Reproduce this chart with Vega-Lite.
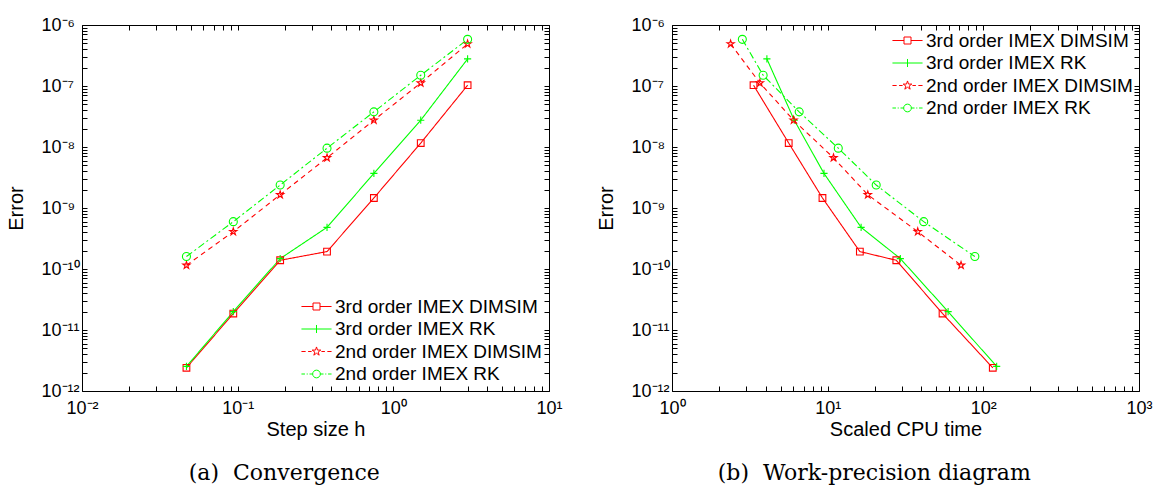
{
  "$schema": "https://vega.github.io/schema/vega-lite/v6.json",
  "background": "white",
  "padding": {"left": 6, "top": 15, "right": 5, "bottom": 5},
  "datasets": {
    "runs": [
      {"series": "3rd order IMEX DIMSIM", "h": 0.046875, "cpu": 115.0, "err": 2.4e-12},
      {"series": "3rd order IMEX DIMSIM", "h": 0.09375, "cpu": 54.7, "err": 1.86e-11},
      {"series": "3rd order IMEX DIMSIM", "h": 0.1875, "cpu": 27.6, "err": 1.39e-10},
      {"series": "3rd order IMEX DIMSIM", "h": 0.375, "cpu": 16.1, "err": 1.93e-10},
      {"series": "3rd order IMEX DIMSIM", "h": 0.75, "cpu": 9.26, "err": 1.46e-9},
      {"series": "3rd order IMEX DIMSIM", "h": 1.5, "cpu": 5.62, "err": 1.16e-8},
      {"series": "3rd order IMEX DIMSIM", "h": 3, "cpu": 3.34, "err": 1.03e-7},
      {"series": "3rd order IMEX RK", "h": 0.046875, "cpu": 121.8, "err": 2.53e-12},
      {"series": "3rd order IMEX RK", "h": 0.09375, "cpu": 59.4, "err": 2.0e-11},
      {"series": "3rd order IMEX RK", "h": 0.1875, "cpu": 29.3, "err": 1.48e-10},
      {"series": "3rd order IMEX RK", "h": 0.375, "cpu": 16.4, "err": 4.82e-10},
      {"series": "3rd order IMEX RK", "h": 0.75, "cpu": 9.47, "err": 3.69e-9},
      {"series": "3rd order IMEX RK", "h": 1.5, "cpu": 6.1, "err": 2.75e-8},
      {"series": "3rd order IMEX RK", "h": 3, "cpu": 4.07, "err": 2.78e-7},
      {"series": "2nd order IMEX DIMSIM", "h": 0.046875, "cpu": 71.9, "err": 1.15e-10},
      {"series": "2nd order IMEX DIMSIM", "h": 0.09375, "cpu": 37.9, "err": 4.09e-10},
      {"series": "2nd order IMEX DIMSIM", "h": 0.1875, "cpu": 18.1, "err": 1.65e-9},
      {"series": "2nd order IMEX DIMSIM", "h": 0.375, "cpu": 10.9, "err": 6.65e-9},
      {"series": "2nd order IMEX DIMSIM", "h": 0.75, "cpu": 6.04, "err": 2.75e-8},
      {"series": "2nd order IMEX DIMSIM", "h": 1.5, "cpu": 3.67, "err": 1.12e-7},
      {"series": "2nd order IMEX DIMSIM", "h": 3, "cpu": 2.38, "err": 4.89e-7},
      {"series": "2nd order IMEX RK", "h": 0.046875, "cpu": 88.2, "err": 1.6e-10},
      {"series": "2nd order IMEX RK", "h": 0.09375, "cpu": 41.4, "err": 5.97e-10},
      {"series": "2nd order IMEX RK", "h": 0.1875, "cpu": 20.5, "err": 2.38e-9},
      {"series": "2nd order IMEX RK", "h": 0.375, "cpu": 11.7, "err": 9.57e-9},
      {"series": "2nd order IMEX RK", "h": 0.75, "cpu": 6.56, "err": 3.77e-8},
      {"series": "2nd order IMEX RK", "h": 1.5, "cpu": 3.85, "err": 1.5e-7},
      {"series": "2nd order IMEX RK", "h": 3, "cpu": 2.83, "err": 5.82e-7}
    ]
  },
  "data": {"name": "runs"},
  "spacing": 33,
  "hconcat": [
    {
      "width": 467,
      "height": 366,
      "title": {"text": "(a)\u00a0 Convergence", "orient": "bottom", "offset": 24, "frame": "bounds"},
      "layer": [
        {
          "mark": {"type": "line", "strokeWidth": 1.1},
          "encoding": {
            "x": {"field": "h", "type": "quantitative", "scale": {"type": "log", "domain": [0.01, 10], "nice": false},
              "axis": {"title": "Step size h", "values": [0.01,0.02,0.03,0.04,0.05,0.06,0.07,0.08,0.09,0.1,0.2,0.3,0.4,0.5,0.6,0.7,0.8,0.9,1,2,3,4,5,6,7,8,9,10],
                "labelExpr": "abs(log(datum.value)/LN10 - round(log(datum.value)/LN10)) < 0.001 ? '10' + ['⁻¹²','⁻¹¹','⁻¹⁰','⁻⁹','⁻⁸','⁻⁷','⁻⁶','⁻⁵','⁻⁴','⁻³','⁻²','⁻¹','⁰','¹','²','³'][round(log(datum.value)/LN10)+12] : ''"}},
            "y": {"field": "err", "type": "quantitative", "scale": {"type": "log", "domain": [1e-12, 1e-6], "nice": false},
              "axis": {"title": "Error", "values": [1e-12,2e-12,3e-12,4e-12,5e-12,6e-12,7e-12,8e-12,9e-12,1e-11,2e-11,3e-11,4e-11,5e-11,6e-11,7e-11,8e-11,9e-11,1e-10,2e-10,3e-10,4e-10,5e-10,6e-10,7e-10,8e-10,9e-10,1e-9,2e-9,3e-9,4e-9,5e-9,6e-9,7e-9,8e-9,9e-9,1e-8,2e-8,3e-8,4e-8,5e-8,6e-8,7e-8,8e-8,9e-8,1e-7,2e-7,3e-7,4e-7,5e-7,6e-7,7e-7,8e-7,9e-7,1e-6],
                "labelExpr": "abs(log(datum.value)/LN10 - round(log(datum.value)/LN10)) < 0.001 ? '10' + ['⁻¹²','⁻¹¹','⁻¹⁰','⁻⁹','⁻⁸','⁻⁷','⁻⁶','⁻⁵','⁻⁴','⁻³','⁻²','⁻¹','⁰','¹','²','³'][round(log(datum.value)/LN10)+12] : ''"}},
            "color": {"field": "series", "type": "nominal", "legend": null,
              "scale": {"domain": ["3rd order IMEX DIMSIM", "3rd order IMEX RK", "2nd order IMEX DIMSIM", "2nd order IMEX RK"], "range": ["#ff0000", "#00ff00", "#ff0000", "#00ff00"]}},
            "strokeDash": {"field": "series", "type": "nominal", "legend": null,
              "scale": {"domain": ["3rd order IMEX DIMSIM", "3rd order IMEX RK", "2nd order IMEX DIMSIM", "2nd order IMEX RK"], "range": [[1, 0], [1, 0], [5, 4], [7, 3, 2, 3]]}}
          }
        },
        {
          "mark": {"type": "point", "filled": false, "strokeWidth": 1.1, "opacity": 1},
          "encoding": {
            "x": {"field": "h", "type": "quantitative", "axis": null},
            "y": {"field": "err", "type": "quantitative", "axis": null},
            "color": {"field": "series", "type": "nominal", "legend": null,
              "scale": {"domain": ["3rd order IMEX DIMSIM", "3rd order IMEX RK", "2nd order IMEX DIMSIM", "2nd order IMEX RK"], "range": ["#ff0000", "#00ff00", "#ff0000", "#00ff00"]}},
            "shape": {"field": "series", "type": "nominal", "legend": null,
              "scale": {"domain": ["3rd order IMEX DIMSIM", "3rd order IMEX RK", "2nd order IMEX DIMSIM", "2nd order IMEX RK"],
                "range": ["square", "M-1,0H1M0,-1V1", "M0,-1L0.2245,-0.309L0.951,-0.309L0.363,0.118L0.588,0.809L0,0.382L-0.588,0.809L-0.363,0.118L-0.951,-0.309L-0.2245,-0.309Z", "circle"]}},
            "size": {"field": "series", "type": "nominal", "legend": null,
              "scale": {"domain": ["3rd order IMEX DIMSIM", "3rd order IMEX RK", "2nd order IMEX DIMSIM", "2nd order IMEX RK"], "range": [45, 64, 100, 64]}}
          }
        },
        {
          "transform": [{"filter": "false"}],
          "mark": {"type": "point", "filled": false, "strokeWidth": 1},
          "encoding": {
            "x": {"field": "h", "type": "quantitative", "axis": {"orient": "top", "labels": false, "title": null, "values": [0.01,0.02,0.03,0.04,0.05,0.06,0.07,0.08,0.09,0.1,0.2,0.3,0.4,0.5,0.6,0.7,0.8,0.9,1,2,3,4,5,6,7,8,9,10]}},
            "y": {"field": "err", "type": "quantitative", "axis": {"orient": "right", "labels": false, "title": null, "values": [1e-12,2e-12,3e-12,4e-12,5e-12,6e-12,7e-12,8e-12,9e-12,1e-11,2e-11,3e-11,4e-11,5e-11,6e-11,7e-11,8e-11,9e-11,1e-10,2e-10,3e-10,4e-10,5e-10,6e-10,7e-10,8e-10,9e-10,1e-9,2e-9,3e-9,4e-9,5e-9,6e-9,7e-9,8e-9,9e-9,1e-8,2e-8,3e-8,4e-8,5e-8,6e-8,7e-8,8e-8,9e-8,1e-7,2e-7,3e-7,4e-7,5e-7,6e-7,7e-7,8e-7,9e-7,1e-6]}},
            "color": {"field": "series", "type": "nominal",
              "scale": {"domain": ["3rd order IMEX DIMSIM", "3rd order IMEX RK", "2nd order IMEX DIMSIM", "2nd order IMEX RK"], "range": ["#ff0000", "#00ff00", "#ff0000", "#00ff00"]},
              "legend": {"orient": "bottom-right", "offset": 7, "title": null}},
            "shape": {"field": "series", "type": "nominal",
              "scale": {"domain": ["3rd order IMEX DIMSIM", "3rd order IMEX RK", "2nd order IMEX DIMSIM", "2nd order IMEX RK"],
                "range": [
                  "M-4.3,0H-1M1,0H4.3M-1,-1H1V1H-1Z",
                  "M-4.3,0H4.3M0,-1.15V1.15",
                  "M-4.3,0H-3.1M-2.4,0H-1.4M1.4,0H2.4M3.1,0H4.3M0,-1.3L0.294,-0.405L1.236,-0.402L0.476,0.155L0.764,1.052L0,0.5L-0.764,1.052L-0.476,0.155L-1.236,-0.402L-0.294,-0.405Z",
                  "M-4.3,0H-3.3M-2.8,0H-2.5M-2,0H-1.1M1.1,0H2M2.5,0H2.8M3.3,0H4.3M-1.1,0A1.1,1.1 0 1,0 1.1,0A1.1,1.1 0 1,0 -1.1,0Z"
                ]},
              "legend": {"orient": "bottom-right", "offset": 7, "title": null}}
          }
        }
      ],
      "resolve": {"scale": {"color": "independent", "shape": "independent"}, "axis": {"x": "independent", "y": "independent"}}
    },
    {
      "width": 467,
      "height": 366,
      "title": {"text": "(b)\u00a0 Work-precision diagram", "orient": "bottom", "offset": 24, "frame": "bounds"},
      "layer": [
        {
          "mark": {"type": "line", "strokeWidth": 1.1},
          "encoding": {
            "x": {"field": "cpu", "type": "quantitative", "scale": {"type": "log", "domain": [1, 1000], "nice": false},
              "axis": {"title": "Scaled CPU time", "values": [1,2,3,4,5,6,7,8,9,10,20,30,40,50,60,70,80,90,100,200,300,400,500,600,700,800,900,1000],
                "labelExpr": "abs(log(datum.value)/LN10 - round(log(datum.value)/LN10)) < 0.001 ? '10' + ['⁻¹²','⁻¹¹','⁻¹⁰','⁻⁹','⁻⁸','⁻⁷','⁻⁶','⁻⁵','⁻⁴','⁻³','⁻²','⁻¹','⁰','¹','²','³'][round(log(datum.value)/LN10)+12] : ''"}},
            "y": {"field": "err", "type": "quantitative", "scale": {"type": "log", "domain": [1e-12, 1e-6], "nice": false},
              "axis": {"title": "Error", "values": [1e-12,2e-12,3e-12,4e-12,5e-12,6e-12,7e-12,8e-12,9e-12,1e-11,2e-11,3e-11,4e-11,5e-11,6e-11,7e-11,8e-11,9e-11,1e-10,2e-10,3e-10,4e-10,5e-10,6e-10,7e-10,8e-10,9e-10,1e-9,2e-9,3e-9,4e-9,5e-9,6e-9,7e-9,8e-9,9e-9,1e-8,2e-8,3e-8,4e-8,5e-8,6e-8,7e-8,8e-8,9e-8,1e-7,2e-7,3e-7,4e-7,5e-7,6e-7,7e-7,8e-7,9e-7,1e-6],
                "labelExpr": "abs(log(datum.value)/LN10 - round(log(datum.value)/LN10)) < 0.001 ? '10' + ['⁻¹²','⁻¹¹','⁻¹⁰','⁻⁹','⁻⁸','⁻⁷','⁻⁶','⁻⁵','⁻⁴','⁻³','⁻²','⁻¹','⁰','¹','²','³'][round(log(datum.value)/LN10)+12] : ''"}},
            "color": {"field": "series", "type": "nominal", "legend": null,
              "scale": {"domain": ["3rd order IMEX DIMSIM", "3rd order IMEX RK", "2nd order IMEX DIMSIM", "2nd order IMEX RK"], "range": ["#ff0000", "#00ff00", "#ff0000", "#00ff00"]}},
            "strokeDash": {"field": "series", "type": "nominal", "legend": null,
              "scale": {"domain": ["3rd order IMEX DIMSIM", "3rd order IMEX RK", "2nd order IMEX DIMSIM", "2nd order IMEX RK"], "range": [[1, 0], [1, 0], [5, 4], [7, 3, 2, 3]]}}
          }
        },
        {
          "mark": {"type": "point", "filled": false, "strokeWidth": 1.1, "opacity": 1},
          "encoding": {
            "x": {"field": "cpu", "type": "quantitative", "axis": null},
            "y": {"field": "err", "type": "quantitative", "axis": null},
            "color": {"field": "series", "type": "nominal", "legend": null,
              "scale": {"domain": ["3rd order IMEX DIMSIM", "3rd order IMEX RK", "2nd order IMEX DIMSIM", "2nd order IMEX RK"], "range": ["#ff0000", "#00ff00", "#ff0000", "#00ff00"]}},
            "shape": {"field": "series", "type": "nominal", "legend": null,
              "scale": {"domain": ["3rd order IMEX DIMSIM", "3rd order IMEX RK", "2nd order IMEX DIMSIM", "2nd order IMEX RK"],
                "range": ["square", "M-1,0H1M0,-1V1", "M0,-1L0.2245,-0.309L0.951,-0.309L0.363,0.118L0.588,0.809L0,0.382L-0.588,0.809L-0.363,0.118L-0.951,-0.309L-0.2245,-0.309Z", "circle"]}},
            "size": {"field": "series", "type": "nominal", "legend": null,
              "scale": {"domain": ["3rd order IMEX DIMSIM", "3rd order IMEX RK", "2nd order IMEX DIMSIM", "2nd order IMEX RK"], "range": [45, 64, 100, 64]}}
          }
        },
        {
          "transform": [{"filter": "false"}],
          "mark": {"type": "point", "filled": false, "strokeWidth": 1},
          "encoding": {
            "x": {"field": "cpu", "type": "quantitative", "axis": {"orient": "top", "labels": false, "title": null, "values": [1,2,3,4,5,6,7,8,9,10,20,30,40,50,60,70,80,90,100,200,300,400,500,600,700,800,900,1000]}},
            "y": {"field": "err", "type": "quantitative", "axis": {"orient": "right", "labels": false, "title": null, "values": [1e-12,2e-12,3e-12,4e-12,5e-12,6e-12,7e-12,8e-12,9e-12,1e-11,2e-11,3e-11,4e-11,5e-11,6e-11,7e-11,8e-11,9e-11,1e-10,2e-10,3e-10,4e-10,5e-10,6e-10,7e-10,8e-10,9e-10,1e-9,2e-9,3e-9,4e-9,5e-9,6e-9,7e-9,8e-9,9e-9,1e-8,2e-8,3e-8,4e-8,5e-8,6e-8,7e-8,8e-8,9e-8,1e-7,2e-7,3e-7,4e-7,5e-7,6e-7,7e-7,8e-7,9e-7,1e-6]}},
            "color": {"field": "series", "type": "nominal",
              "scale": {"domain": ["3rd order IMEX DIMSIM", "3rd order IMEX RK", "2nd order IMEX DIMSIM", "2nd order IMEX RK"], "range": ["#ff0000", "#00ff00", "#ff0000", "#00ff00"]},
              "legend": {"orient": "top-right", "offset": 6, "title": null}},
            "shape": {"field": "series", "type": "nominal",
              "scale": {"domain": ["3rd order IMEX DIMSIM", "3rd order IMEX RK", "2nd order IMEX DIMSIM", "2nd order IMEX RK"],
                "range": [
                  "M-4.3,0H-1M1,0H4.3M-1,-1H1V1H-1Z",
                  "M-4.3,0H4.3M0,-1.15V1.15",
                  "M-4.3,0H-3.1M-2.4,0H-1.4M1.4,0H2.4M3.1,0H4.3M0,-1.3L0.294,-0.405L1.236,-0.402L0.476,0.155L0.764,1.052L0,0.5L-0.764,1.052L-0.476,0.155L-1.236,-0.402L-0.294,-0.405Z",
                  "M-4.3,0H-3.3M-2.8,0H-2.5M-2,0H-1.1M1.1,0H2M2.5,0H2.8M3.3,0H4.3M-1.1,0A1.1,1.1 0 1,0 1.1,0A1.1,1.1 0 1,0 -1.1,0Z"
                ]},
              "legend": {"orient": "top-right", "offset": 6, "title": null}}
          }
        }
      ],
      "resolve": {"scale": {"color": "independent", "shape": "independent"}, "axis": {"x": "independent", "y": "independent"}}
    }
  ],
  "config": {
    "view": {"stroke": "black", "strokeWidth": 1},
    "axis": {
      "domain": false, "grid": false, "ticks": true, "tickSize": 5, "offset": -5, "tickWidth": 1, "tickColor": "black", "zindex": 1,
      "labelFont": "Liberation Sans", "labelFontSize": 18, "labelColor": "black",
      "labelFlush": false, "labelOverlap": false, "labelBound": false,
      "titleFont": "Liberation Sans", "titleFontSize": 20, "titleFontWeight": "normal", "titleColor": "black"
    },
    "axisLeft": {"labelAlign": "left", "labelPadding": 41, "titlePadding": 14.5},
    "axisBottom": {"labelPadding": 8, "titlePadding": 2},
    "legend": {
      "labelFont": "Liberation Sans", "labelFontSize": 19, "labelColor": "black", "labelLimit": 400,
      "symbolSize": 49, "symbolStrokeWidth": 1, "symbolOffset": 11, "labelOffset": 9,
      "rowPadding": 2.5, "padding": 0, "symbolOpacity": 1
    },
    "title": {"font": "DejaVu Serif", "fontSize": 22, "fontWeight": "normal", "color": "black", "anchor": "middle"}
  }
}
